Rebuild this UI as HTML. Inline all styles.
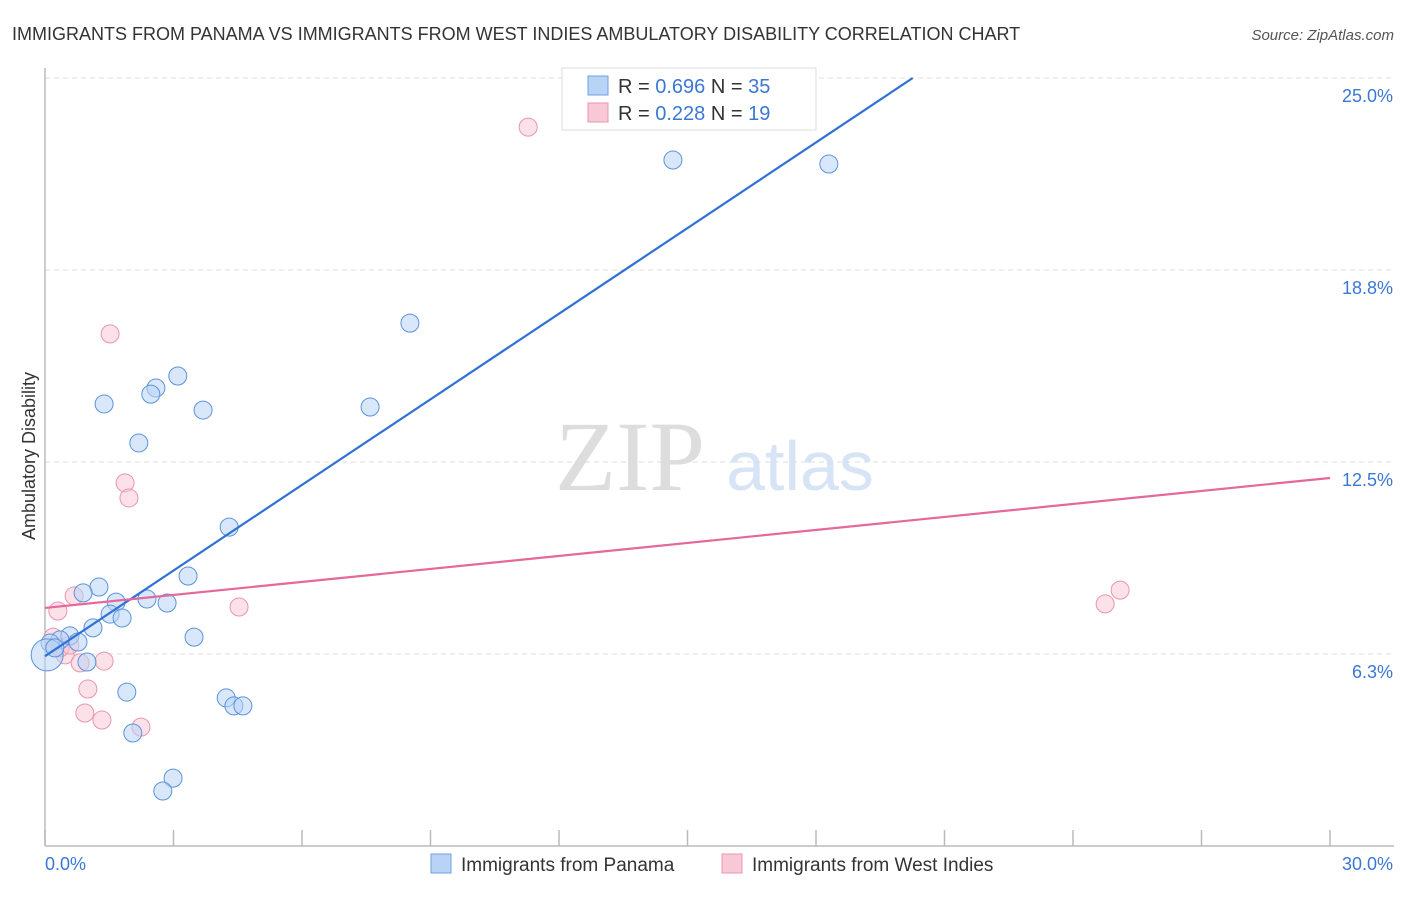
<!DOCTYPE html>
<html><head><meta charset="utf-8"><style>
body{margin:0;background:#fff;font-family:"Liberation Sans",sans-serif}
</style></head><body>
<svg width="1406" height="892" xmlns="http://www.w3.org/2000/svg" font-family="Liberation Sans, sans-serif">
<text x="12" y="40" font-size="18" fill="#333">IMMIGRANTS FROM PANAMA VS IMMIGRANTS FROM WEST INDIES AMBULATORY DISABILITY CORRELATION CHART</text>
<text x="1394" y="40" font-size="15" fill="#555" font-style="italic" text-anchor="end">Source: ZipAtlas.com</text>
<text x="630" y="490" font-size="100" fill="#ddd" font-family="Liberation Serif, serif" text-anchor="middle">ZIP</text>
<text x="800" y="490" font-size="70" fill="#d6e4f5" text-anchor="middle">atlas</text>
<g id="grid"></g>
<line x1="45" y1="68" x2="45" y2="846" stroke="#bbb" stroke-width="1.5"/>
<line x1="45" y1="846" x2="1394" y2="846" stroke="#bbb" stroke-width="1.5"/>
<g id="xticks"></g>
<text transform="translate(35,456) rotate(-90)" font-size="18" fill="#333" text-anchor="middle">Ambulatory Disability</text>
<text x="45" y="870" font-size="18" fill="#3a78d4">0.0%</text>
<text x="1393" y="870" font-size="18" fill="#3a78d4" text-anchor="end">30.0%</text>
<g id="pts"></g>
<g id="lines"></g>
<g>
<rect x="562" y="68" width="254" height="62" fill="#fff" stroke="#ddd"/>
<rect x="588" y="76" width="20" height="19" fill="#b8d3f5" stroke="#6ea0e0"/>
<rect x="588" y="103" width="20" height="19" fill="#f9c8d6" stroke="#e896ae"/>
<text x="618" y="93" font-size="20" fill="#333">R = <tspan fill="#3a78d4">0.696</tspan>   N = <tspan fill="#3a78d4">35</tspan></text>
<text x="618" y="120" font-size="20" fill="#333">R = <tspan fill="#3a78d4">0.228</tspan>   N = <tspan fill="#3a78d4"> 19</tspan></text>
</g>
<g>
<rect x="431" y="854" width="20" height="19" fill="#b8d3f5" stroke="#6ea0e0"/>
<text x="461" y="871" font-size="19" fill="#333">Immigrants from Panama</text>
<rect x="722" y="854" width="20" height="19" fill="#f9c8d6" stroke="#e896ae"/>
<text x="752" y="871" font-size="19" fill="#333">Immigrants from West Indies</text>
</g>
</svg>
<script>
const yTicks=[6.3,12.5,18.8,25.0];
const yTickLabels=["6.3%","12.5%","18.8%","25.0%"];
const blueX=[14.66,18.30,8.52,7.59,3.10,2.59,2.47,1.38,3.69,2.19,4.30,3.34,1.26,0.89,2.38,1.66,2.85,1.52,1.80,1.12,0.58,0.35,0.77,0.12,3.48,0.98,1.91,4.23,4.41,4.62,2.05,2.99,2.75,0.05,0.23];
const blueY=[22.33,22.20,17.02,14.29,15.30,14.91,14.71,14.39,14.19,13.12,10.38,8.79,8.43,8.24,8.04,7.94,7.91,7.55,7.42,7.10,6.84,6.71,6.64,6.61,6.80,5.99,5.01,4.82,4.56,4.56,3.68,2.21,1.79,6.22,6.45];
const pinkX=[11.28,1.52,1.87,1.96,0.68,0.30,4.53,24.75,25.10,0.19,0.47,0.82,1.38,1.00,0.93,1.33,2.24,0.35,0.58];
const pinkY=[23.40,16.67,11.82,11.33,8.14,7.65,7.78,7.88,8.33,6.80,6.22,5.96,6.02,5.11,4.33,4.10,3.87,6.45,6.54];
const blueFit=[6.18,0.929];
const pinkFit=[7.75,0.141];
const NS="http://www.w3.org/2000/svg";
const sx=v=>45+v/30*1285;
const sy=v=>846-v/6.25*192;
function mk(tag,attrs,parent){const e=document.createElementNS(NS,tag);for(const k in attrs)e.setAttribute(k,attrs[k]);document.getElementById(parent).appendChild(e);return e;}
yTicks.forEach((t,i)=>{
 const y=sy(t===6.3?6.25:t===18.8?18.75:t);
 const l=mk('line',{x1:45,x2:1394,y1:y,y2:y,stroke:'#ddd','stroke-dasharray':'5,4'},'grid');
 
 
 const tx=mk('text',{x:1393,y:y+24,'font-size':18,fill:'#3a78d4','text-anchor':'end'},'grid');
 tx.textContent=yTickLabels[i];
 
 
});
for(let i=0;i<=10;i++){
 const x=sx(i*3);
 const l=mk('line',{x1:x,x2:x,y1:830,y2:846,stroke:'#bbb','stroke-width':1.5},'xticks');
 
 
}
function pts(xs,ys,fill,stroke,name){
 xs.forEach((v,i)=>{
  const big=(name==='panama-point'&&i===xs.length-2);
  const c=mk('circle',{cx:sx(v),cy:sy(ys[i]),r:big?16:9,fill:fill,'fill-opacity':0.55,stroke:stroke,'stroke-width':1},'pts');
  
  
 });
}
pts(pinkX,pinkY,'#f9c8d6','#e896ae','west-indies-point');
pts(blueX,blueY,'#b8d3f5','#5b93dc','panama-point');
const bx2=(25-blueFit[0])/blueFit[1];
const bl=mk('line',{x1:sx(0),y1:sy(blueFit[0]),x2:sx(bx2),y2:sy(25),stroke:'#2f72d6','stroke-width':2.2},'lines');


const pl=mk('line',{x1:sx(0),y1:sy(pinkFit[0]),x2:sx(30),y2:sy(pinkFit[0]+30*pinkFit[1]),stroke:'#e5689a','stroke-width':2.2},'lines');


</script>
</body></html>
